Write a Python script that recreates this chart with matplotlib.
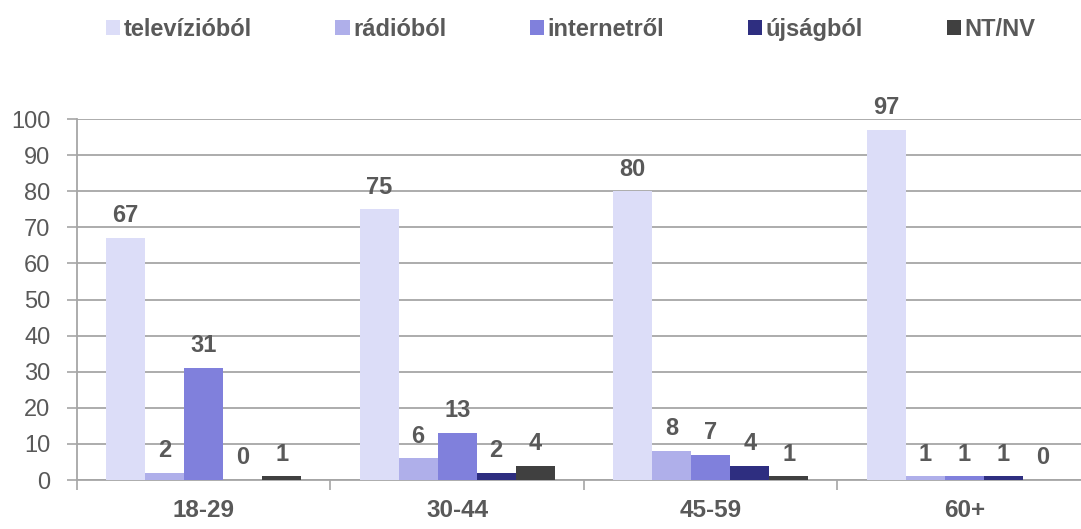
"""Honnan tájékozódik? – korcsoportonként (televízió, rádió, internet, újság, NT/NV)."""
import numpy as np
import matplotlib
matplotlib.use("Agg")
import matplotlib.pyplot as plt

plt.rcParams["font.family"] = ["Liberation Sans", "DejaVu Sans"]

groups = ["18-29", "30-44", "45-59", "60+"]
series = ["televízióból", "rádióból", "internetről", "újságból", "NT/NV"]
televizio = [67, 75, 80, 97]
radio     = [2, 6, 8, 1]
internet  = [31, 13, 7, 1]
ujsag     = [0, 2, 4, 1]
ntnv      = [1, 4, 1, 0]
values = [televizio, radio, internet, ujsag, ntnv]
colors = ["#DCDDF8", "#AFAFEA", "#8080DC", "#2E2E80", "#404040"]
yticks = list(range(0, 101, 10))

TXT = "#595959"
GRID = "#A6A6A6"

fig = plt.figure(figsize=(10.81, 5.29), dpi=100)
ax = fig.add_axes([0.0712, 0.0926, 0.938, 0.6824])

x = np.arange(len(groups))
bw = 0.77 / len(series)
handles = []
for i, (name, vals, c) in enumerate(zip(series, values, colors)):
    pos = x - 0.385 + bw * (i + 0.5)
    b = ax.bar(pos, vals, width=bw, color=c, label=name, zorder=3, linewidth=0)
    handles.append(b)
    for xp, v in zip(pos, vals):
        ax.annotate(str(v), (xp, v), xytext=(0, 16), textcoords="offset points",
                    ha="center", va="center", fontsize=17, fontweight="bold",
                    color=TXT, annotation_clip=False, zorder=4)

ax.set_xlim(-0.5, len(groups) - 0.5)
ax.set_ylim(0, 100)
ax.set_yticks(yticks)
ax.yaxis.grid(True, color=GRID, lw=1.3, zorder=0)
ax.tick_params(axis="y", length=7, width=1.2, color=GRID, pad=12,
               labelsize=17, labelcolor=TXT)

ax.set_xticks(x)
ax.set_xticklabels(groups, fontsize=17.5, fontweight="bold", color=TXT)
ax.set_xticks(np.arange(-0.5, len(groups)), minor=True)
ax.tick_params(axis="x", which="major", length=0, pad=14)
ax.tick_params(axis="x", which="minor", length=7, width=1.2, color=GRID)

for s in ["top", "right"]:
    ax.spines[s].set_visible(False)
for s in ["left", "bottom"]:
    ax.spines[s].set_color(GRID)
    ax.spines[s].set_linewidth(1.3)

leg = fig.legend(handles=handles, loc="center", bbox_to_anchor=(0.528, 0.945),
                 ncol=5, frameon=False, handlelength=0.6, handleheight=0.6,
                 handletextpad=0.15, columnspacing=3.55,
                 prop={"size": 17, "weight": "bold"})
for t in leg.get_texts():
    t.set_color(TXT)

fig.savefig("out.png", dpi=100)
